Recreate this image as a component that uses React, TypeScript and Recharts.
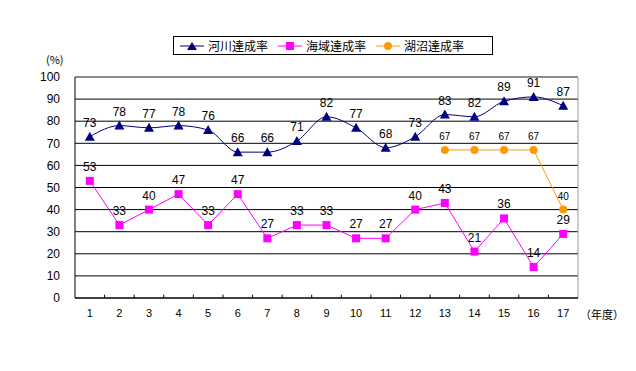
import { LineChart, Line, XAxis, YAxis, CartesianGrid, LabelList, ReferenceLine } from "recharts";

const years = [1, 2, 3, 4, 5, 6, 7, 8, 9, 10, 11, 12, 13, 14, 15, 16, 17];
const riverRate = [73, 78, 77, 78, 76, 66, 66, 71, 82, 77, 68, 73, 83, 82, 89, 91, 87];
const seaRate = [53, 33, 40, 47, 33, 47, 27, 33, 33, 27, 27, 40, 43, 21, 36, 14, 29];
const lakeRate = [null, null, null, null, null, null, null, null, null, null, null, null, 67, 67, 67, 67, 40];
const yTicks = [0, 10, 20, 30, 40, 50, 60, 70, 80, 90, 100];
const tickBounds = [1.5, 2.5, 3.5, 4.5, 5.5, 6.5, 7.5, 8.5, 9.5, 10.5, 11.5, 12.5, 13.5, 14.5, 15.5, 16.5];

const seriesNames = ["河川達成率", "海域達成率", "湖沼達成率"];
const colors = ["#000080", "#ff00ff", "#ff9900"];

const data = years.map((y, i) => ({
  year: y,
  river: riverRate[i],
  sea: seaRate[i],
  lake: lakeRate[i],
}));

const numFont = "'Liberation Sans', Arial, sans-serif";
const jpFont = "'Noto Sans CJK JP', sans-serif";

const Tri = (props: any) => {
  const { cx, cy, index } = props;
  if (cx == null || cy == null) return <g key={`t-${index}`} />;
  return <polygon key={`t-${index}`} points={`${cx},${cy - 5} ${cx - 5},${cy + 4} ${cx + 5},${cy + 4}`} fill={colors[0]} />;
};

const Sq = (props: any) => {
  const { cx, cy, index } = props;
  if (cx == null || cy == null) return <g key={`s-${index}`} />;
  return <rect key={`s-${index}`} x={cx - 4} y={cy - 4} width={8} height={8} fill={colors[1]} />;
};

const Dot = (props: any) => {
  const { cx, cy, index, value } = props;
  if (cx == null || cy == null || value == null) return <g key={`c-${index}`} />;
  return <circle key={`c-${index}`} cx={cx} cy={cy} r={4} fill={colors[2]} />;
};

const icons = [
  <polygon points="12,2 7,10 17,10" fill={colors[0]} />,
  <rect x={8} y={2} width={8} height={8} fill={colors[1]} />,
  <circle cx={12} cy={6} r={4} fill={colors[2]} />,
];

function LegendBox() {
  return (
    <div
      style={{
        position: "absolute",
        left: 173,
        top: 36,
        width: 320,
        height: 19,
        border: "1px solid #000",
        display: "flex",
        alignItems: "center",
        paddingLeft: 6,
        boxSizing: "border-box",
        fontFamily: jpFont,
        fontSize: 12,
        color: "#000",
        whiteSpace: "nowrap",
      }}
    >
      {seriesNames.map((name, i) => (
        <div key={name} style={{ display: "flex", alignItems: "center", marginRight: 10 }}>
          <svg width={24} height={12} style={{ marginRight: 4 }}>
            <line x1={0} y1={6} x2={24} y2={6} stroke={colors[i]} strokeWidth={1} />
            {icons[i]}
          </svg>
          <span style={{ lineHeight: "12px" }}>{name}</span>
        </div>
      ))}
    </div>
  );
}

export default function App() {
  return (
    <div style={{ position: "absolute", left: 0, top: 0, width: 636, height: 371, background: "#fff", overflow: "hidden" }}>
      <LineChart
        width={636}
        height={371}
        data={data}
        margin={{ top: 77, right: 58, left: 35, bottom: 43 }}
      >
        <CartesianGrid vertical={false} stroke="#000" strokeWidth={1} />
        <XAxis
          dataKey="year"
          type="number"
          domain={[0.5, 17.5]}
          ticks={years}
          interval={0}
          tickLine={false}
          axisLine={{ stroke: "#000" }}
          tick={{ fontSize: 11, fill: "#000", fontFamily: numFont }}
          tickMargin={5}
          height={30}
        />
        <YAxis
          domain={[0, 100]}
          ticks={yTicks}
          interval={0}
          width={40}
          tickLine={false}
          axisLine={{ stroke: "#000" }}
          tick={{ fontSize: 12, fill: "#000", fontFamily: numFont }}
          tickMargin={9}
        />
        <ReferenceLine y={100} stroke="#999" />
        <ReferenceLine x={17.5} stroke="#999" />
        {tickBounds.map((b) => (
          <ReferenceLine key={b} segment={[{ x: b, y: 0 }, { x: b, y: 1.5 }]} stroke="#000" />
        ))}
        <Line
          type="monotone"
          dataKey="river"
          stroke={colors[0]}
          strokeWidth={1}
          dot={Tri}
          isAnimationActive={false}
        >
          <LabelList dataKey="river" position="top" offset={10} style={{ fontSize: 12, fill: "#000", fontFamily: numFont }} />
        </Line>
        <Line
          type="linear"
          dataKey="sea"
          stroke={colors[1]}
          strokeWidth={1}
          dot={Sq}
          isAnimationActive={false}
        >
          <LabelList dataKey="sea" position="top" offset={10} style={{ fontSize: 12, fill: "#000", fontFamily: numFont }} />
        </Line>
        <Line
          type="linear"
          dataKey="lake"
          stroke={colors[2]}
          strokeWidth={1}
          dot={Dot}
          isAnimationActive={false}
        >
          <LabelList dataKey="lake" position="top" offset={10} style={{ fontSize: 10, fill: "#000", fontFamily: numFont }} />
        </Line>
      </LineChart>
      <LegendBox />
      <div style={{ position: "absolute", left: 46, top: 51, fontSize: 11, fontFamily: jpFont }}>(%)</div>
      <div style={{ position: "absolute", left: 580, top: 306, fontSize: 11, fontFamily: jpFont, whiteSpace: "nowrap" }}>（年度）</div>
    </div>
  );
}
